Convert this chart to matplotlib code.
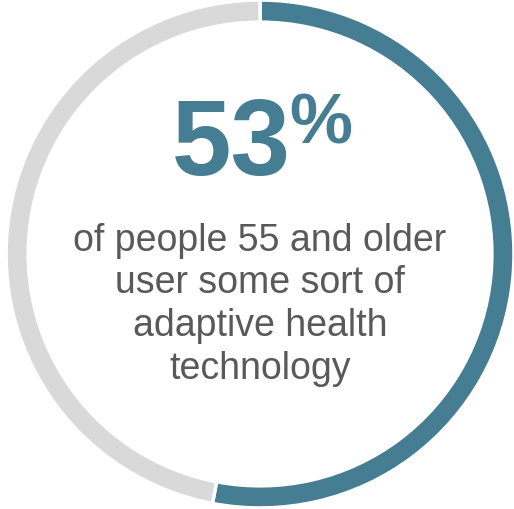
import matplotlib.pyplot as plt

# datos del anillo
valores = [53, 47]
colores = ["#457d93", "#d9d9d9"]
porcentaje = "53"
texto = "of people 55 and older\nuser some sort of\nadaptive health\ntechnology"

plt.rcParams["font.family"] = ["Liberation Sans", "DejaVu Sans"]

fig = plt.figure(figsize=(5.14, 5.09), dpi=100)
ax = fig.add_axes([0, 0, 1, 1])

ax.pie(valores, colors=colores, startangle=90, counterclock=False, radius=1.0,
       wedgeprops=dict(width=0.087, edgecolor="white", linewidth=2.5))

ax.set_xlim(-1.024, 1.0)
ax.set_ylim(-1.004, 1.0)
ax.set_aspect("equal")
ax.axis("off")

# numero grande
ax.text(0.12, 0.31, porcentaje, ha="right", va="baseline", fontsize=77,
        fontweight="bold", color=colores[0])
ax.text(0.115, 0.435, "%", ha="left", va="baseline", fontsize=51,
        fontweight="bold", color=colores[0])

ax.text(0.0, -0.2, texto, ha="center", va="center", fontsize=27,
        color="#595959", linespacing=1.24)

fig.savefig("out.png", dpi=100)
